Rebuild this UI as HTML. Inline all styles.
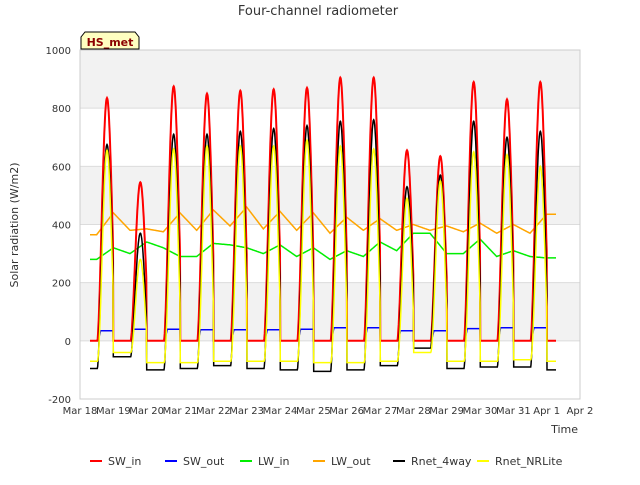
<!DOCTYPE html>
<html><head><meta charset="utf-8"><style>
body{margin:0;background:#fff;font-family:"Liberation Sans","DejaVu Sans",sans-serif}
svg text{font-family:"DejaVu Sans","Liberation Sans",sans-serif}
</style></head><body>
<svg id="c" width="640" height="480" viewBox="0 0 640 480"></svg>
<script>
// daily values, Mar 18 .. Mar 31
const days = ["Mar 18","Mar 19","Mar 20","Mar 21","Mar 22","Mar 23","Mar 24","Mar 25","Mar 26","Mar 27","Mar 28","Mar 29","Mar 30","Mar 31"];
const xTicks = ["Mar 18","Mar 19","Mar 20","Mar 21","Mar 22","Mar 23","Mar 24","Mar 25","Mar 26","Mar 27","Mar 28","Mar 29","Mar 30","Mar 31","Apr 1","Apr 2"];
const yTicks = [-200,0,200,400,600,800,1000];
const swInPeak = [835,545,875,850,860,865,870,905,905,655,635,890,830,890];
const swOutPeak = [35,40,40,38,38,38,40,45,45,35,35,42,45,45];
const rnetPeak = [675,370,710,710,720,730,740,755,760,530,570,755,700,720];
const rnetNight = [-95,-55,-100,-95,-85,-95,-100,-105,-100,-85,-25,-95,-90,-90,-100];
const nrPeak = [655,280,660,670,670,670,690,670,660,490,550,650,640,600];
const nrNight = [-70,-40,-75,-75,-70,-70,-70,-75,-75,-70,-40,-70,-70,-65,-70];
// half-day samples starting Mar 18 00:00
const lwIn = [280,280,320,300,340,320,290,290,335,330,320,300,330,290,320,280,310,290,340,310,370,370,300,300,350,290,310,290,285];
const lwOut = [365,365,440,380,385,375,440,380,450,395,460,385,445,380,440,370,425,380,420,380,400,380,395,375,405,370,400,370,435];

const svg=document.getElementById('c');
const NS='http://www.w3.org/2000/svg';
const L=80,R=580,T=50,B=399;
const X=d=>L+(d/15)*(R-L);
const Y=v=>T+(1000-v)/1200*(B-T);
function el(t,a,p){const e=document.createElementNS(NS,t);for(const k in a)e.setAttribute(k,a[k]);(p||svg).appendChild(e);return e;}

for(let i=0;i<6;i++){const v0=1000-i*200;
 const r=el('rect',{x:L,y:Y(v0),width:R-L,height:Y(v0-200)-Y(v0),fill:i%2==0?'#f2f2f2':'#fff'});
 
 }
yTicks.forEach(v=>{el('line',{x1:L,x2:R,y1:Y(v),y2:Y(v),stroke:'#dcdcdc','stroke-width':1});
 const t=el('text',{x:71,y:Y(v)+4,'text-anchor':'end','font-size':10,fill:'#333'});t.textContent=v;
 
 });
el('rect',{x:L,y:T,width:R-L,height:B-T,fill:'none',stroke:'#ccc'});
xTicks.forEach((s,i)=>{const t=el('text',{x:X(i),y:414,'text-anchor':'middle','font-size':10,fill:'#333'});t.textContent=s;
 
 });

const t0=0.3,t1=14.28,dt=0.01;
function shape(t){const f=t-Math.floor(t);const c=0.81,h=0.29;const u=(f-c)/h;return Math.abs(u)<1?Math.pow(Math.cos(u*Math.PI/2),1.6):0;}
function dayIdx(t){return Math.min(13,Math.floor(t));}
function series(fn){let p=[];for(let t=t0;t<=t1;t+=dt)p.push(X(t).toFixed(1)+','+Y(fn(t)).toFixed(1));return p.join(' ');}
function nightVal(arr,t){const f=t-Math.floor(t);const d=Math.floor(t);return f<0.81?arr[Math.min(d,arr.length-1)]:arr[Math.min(d+1,arr.length-1)];}
function half(arr,t){const i=t*2;const a=Math.floor(i);const b=Math.min(a+1,arr.length-1);const f=i-a;return arr[a]*(1-f)+arr[b]*f;}

const lines=[
 ['lw-out-line','#ffa500',t=>half(lwOut,t)],
 ['lw-in-line','#00ee00',t=>half(lwIn,t)],
 ['sw-out-line','#0000ff',t=>swOutPeak[dayIdx(t)]*Math.min(1,shape(t)*3)],
 ['sw-in-line','#ff0000',t=>swInPeak[dayIdx(t)]*shape(t)],
 ['rnet-4way-line','#000000',t=>{const n=nightVal(rnetNight,t);return n+(rnetPeak[dayIdx(t)]-n)*shape(t);}],
 ['rnet-nrlite-line','#ffff00',t=>{const n=nightVal(nrNight,t);return n+(nrPeak[dayIdx(t)]-n)*Math.pow(shape(t),1.2);}]
];
lines.forEach(([n,c,fn])=>{const p=el('polyline',{points:series(fn),fill:'none',stroke:c,'stroke-width':n=='sw-in-line'?2:1.5});
 
 });

const title=el('text',{x:318,y:15,'text-anchor':'middle','font-size':13,fill:'#333'});title.textContent='Four-channel radiometer';


const yl=el('text',{x:18,y:225,'text-anchor':'middle','font-size':11,fill:'#333',transform:'rotate(-90 18 225)'});yl.textContent='Solar radiation (W/m2)';


const xl=el('text',{x:578,y:433,'text-anchor':'end','font-size':11,fill:'#333'});xl.textContent='Time';



const g=el('g',{});


el('path',{d:'M81,49 L81,37 L85,32 L135,32 L139,37 L139,49 Z',fill:'#ffffc0',stroke:'#000','stroke-width':1},g);
const bt=el('text',{x:110,y:46,'text-anchor':'middle','font-size':11,'font-weight':'bold',fill:'#8b0000'},g);bt.textContent='HS_met';

const legend=[['SW_in','#ff0000',90],['SW_out','#0000ff',165],['LW_in','#00ee00',240],['LW_out','#ffa500',313],['Rnet_4way','#000000',393],['Rnet_NRLite','#ffff00',477]];
legend.forEach(([n,c,x])=>{const lg=el('g',{});
 
 
 el('line',{x1:x,x2:x+12,y1:461,y2:461,stroke:c,'stroke-width':2},lg);
 const t=el('text',{x:x+18,y:465,'font-size':11,fill:'#333'},lg);t.textContent=n;});
</script>
</body></html>
